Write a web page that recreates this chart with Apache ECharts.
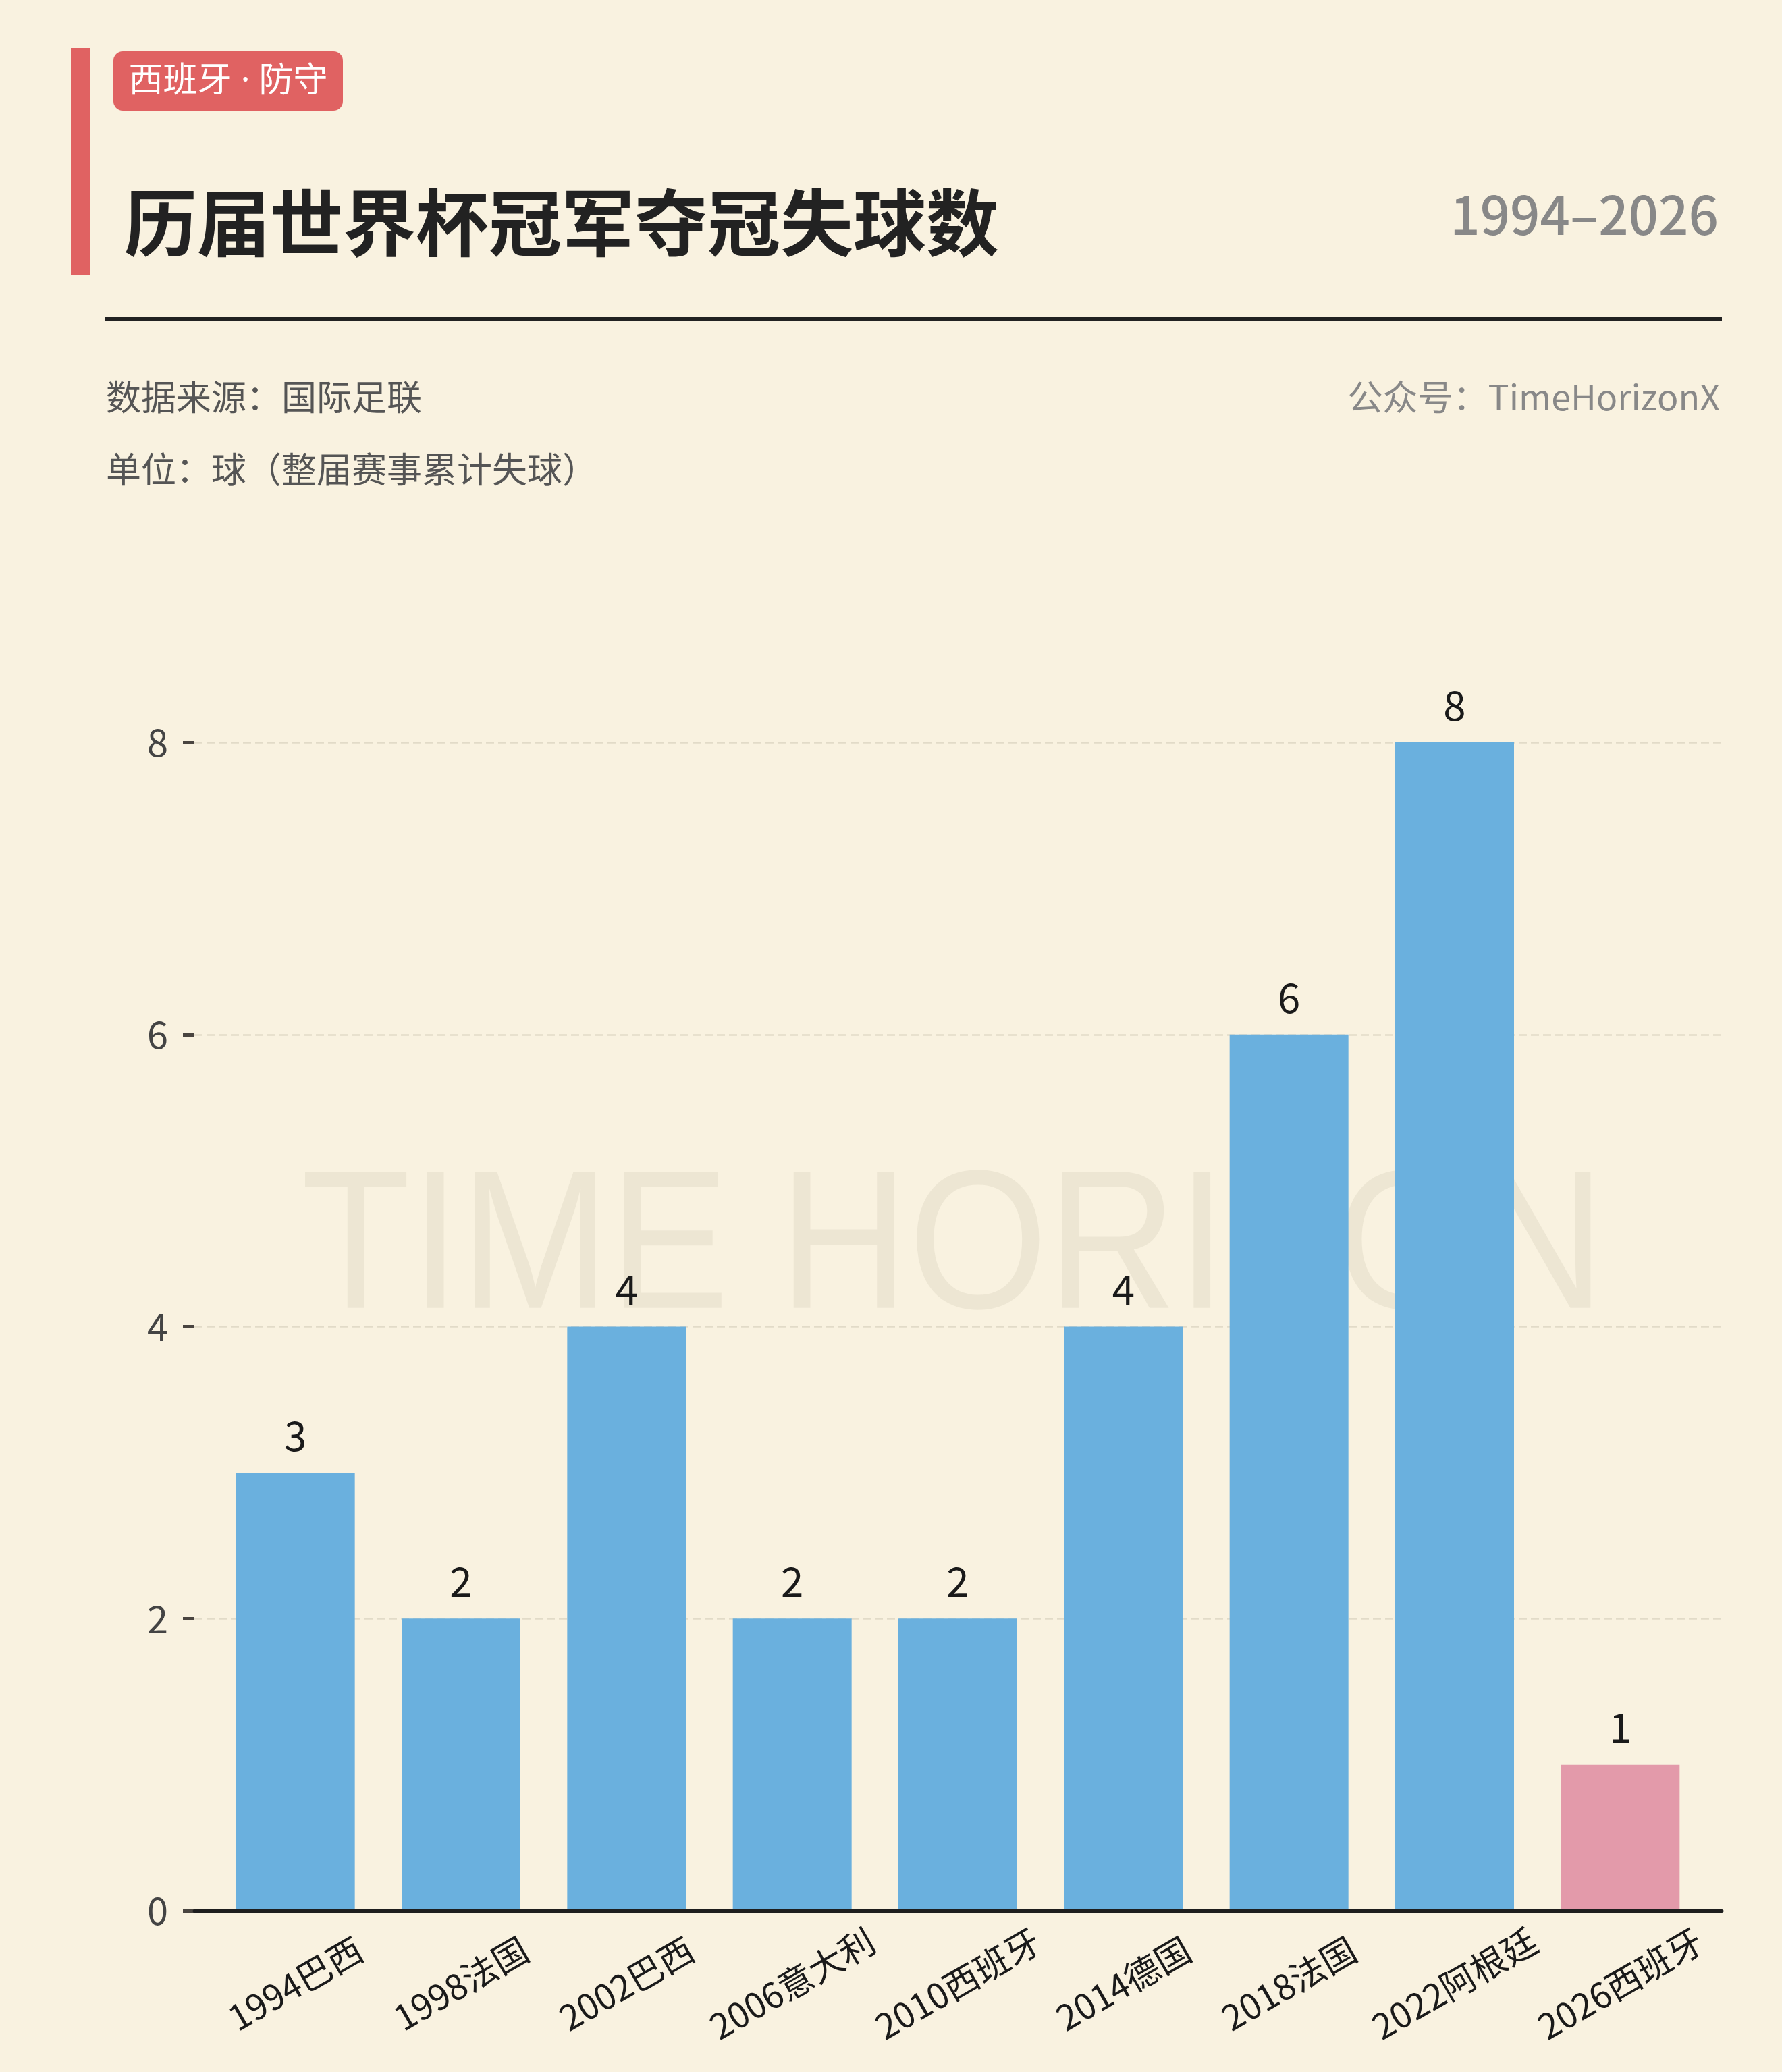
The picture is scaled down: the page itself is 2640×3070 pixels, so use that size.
<!DOCTYPE html>
<html>
<head>
<meta charset="utf-8">
<script src="https://cdn.jsdelivr.net/npm/echarts@6/dist/echarts.min.js"></script>
<style>
  html, body { margin: 0; padding: 0; background: #F9F2E0; }
  #chart { width: 2640px; height: 3070px; }
</style>
</head>
<body>
<div id="chart"></div>
<script>
// ---- data ----
const categories = ['1994巴西', '1998法国', '2002巴西', '2006意大利', '2010西班牙', '2014德国', '2018法国', '2022阿根廷', '2026西班牙'];
const goalsConceded = [3, 2, 4, 2, 2, 4, 6, 8, 1];
const highlightCategory = '2026西班牙';
const yTicks = [0, 2, 4, 6, 8];

const titleText = '历届世界杯冠军夺冠失球数';
const tagText = '西班牙 · 防守';
const yearRange = '1994–2026';
const sourceText = '数据来源：国际足联';
const unitText = '单位：球（整届赛事累计失球）';
const accountText = '公众号：TimeHorizonX';
const watermarkText = 'TIME HORIZON';

// ---- styles ----
const BG = '#F9F2E0';
const BLUE = '#6AB0DE';
const PINK = '#E39AAA';
const RED = '#E06262';
const FONT = '"Noto Sans CJK SC", "Noto Sans", sans-serif';
const LATIN_FIRST = '"Noto Sans", "Noto Sans CJK SC", sans-serif';

const chart = echarts.init(document.getElementById('chart'), null, { renderer: 'canvas' });

const barData = categories.map((c, i) => {
  const hl = c === highlightCategory;
  return {
    value: goalsConceded[i],
    itemStyle: hl ? { color: PINK, borderColor: PINK, borderWidth: 8 } : { color: BLUE }
  };
});

const option = {
  backgroundColor: BG,
  animation: false,
  textStyle: { fontFamily: FONT },
  grid: [
    { left: 288, right: 89, top: 1100, bottom: 239 },
    { left: 315, right: 117, top: 1100, bottom: 239 }
  ],
  xAxis: [
    {
      gridIndex: 0, type: 'value', min: 0, max: 1, z: 5,
      axisLine: { show: true, onZero: false, lineStyle: { color: '#1E1E1E', width: 5 } },
      axisTick: { show: false }, axisLabel: { show: false }, splitLine: { show: false }
    },
    {
      gridIndex: 1, type: 'category', data: categories,
      axisLine: { show: false }, axisTick: { show: false },
      axisLabel: {
        interval: 0, rotate: 30, align: 'center', verticalAlign: 'middle', margin: 108,
        fontSize: 52, color: '#1A1A1A', fontFamily: FONT
      }
    }
  ],
  yAxis: [
    {
      gridIndex: 0, type: 'value', min: 0, max: 8, interval: 2,
      axisLine: { show: false },
      axisTick: { show: true, length: 17, lineStyle: { color: '#4A4540', width: 5 } },
      axisLabel: {
        fontSize: 56, color: '#444444', margin: 39, fontFamily: FONT,
        formatter: v => (yTicks.indexOf(v) >= 0 ? String(v) : '')
      },
      splitLine: { show: true, lineStyle: { color: '#E2DBC8', width: 2.5, type: [12, 6] } }
    },
    {
      gridIndex: 1, type: 'value', min: 0, max: 8, interval: 2, show: false,
      splitLine: { show: false }
    }
  ],
  graphic: [
    // watermark
    {
      type: 'text', x: 1412, y: 1857, scaleX: 0.906, z: 0, silent: true,
      style: {
        text: watermarkText, fill: '#EDE6D3',
        font: 'normal 293px "Liberation Sans", Arial, sans-serif',
        textAlign: 'center', textVerticalAlign: 'middle'
      }
    },
    // left red accent bar
    { type: 'rect', shape: { x: 105, y: 71, width: 28, height: 337 }, style: { fill: RED }, z: 10 },
    // tag
    { type: 'rect', shape: { x: 168, y: 76, width: 340, height: 88, r: 14 }, style: { fill: RED }, z: 10 },
    {
      type: 'text', x: 338, y: 121, z: 11,
      style: { text: tagText, fill: '#FFFFFF', font: 'normal 51px ' + LATIN_FIRST, textAlign: 'center', textVerticalAlign: 'middle' }
    },
    // title
    {
      type: 'text', x: 184, y: 330, z: 11,
      style: { text: titleText, fill: '#222222', font: 'bold 108px ' + FONT, textAlign: 'left', textVerticalAlign: 'middle' }
    },
    // year range
    {
      type: 'text', x: 2546, y: 318, z: 11,
      style: { text: yearRange, fill: '#888888', font: '500 78px ' + FONT, textAlign: 'right', textVerticalAlign: 'middle' }
    },
    // rule
    { type: 'rect', shape: { x: 155, y: 469, width: 2396, height: 6 }, style: { fill: '#222222' }, z: 10 },
    // source / unit
    {
      type: 'text', x: 157, y: 588, z: 11,
      style: { text: sourceText, fill: '#555555', font: 'normal 52px ' + FONT, textAlign: 'left', textVerticalAlign: 'middle' }
    },
    {
      type: 'text', x: 157, y: 695, z: 11,
      style: { text: unitText, fill: '#555555', font: 'normal 52px ' + FONT, textAlign: 'left', textVerticalAlign: 'middle' }
    },
    {
      type: 'text', x: 2548, y: 588, z: 11,
      style: { text: accountText, fill: '#888888', font: 'normal 52px ' + FONT, textAlign: 'right', textVerticalAlign: 'middle' }
    }
  ],
  series: [
    {
      type: 'bar', xAxisIndex: 1, yAxisIndex: 1, barWidth: 176, z: 2,
      data: barData,
      label: {
        show: true, position: 'top', distance: 25,
        fontSize: 60, color: '#1A1A1A', fontFamily: FONT
      }
    }
  ]
};

chart.setOption(option);
</script>
</body>
</html>
